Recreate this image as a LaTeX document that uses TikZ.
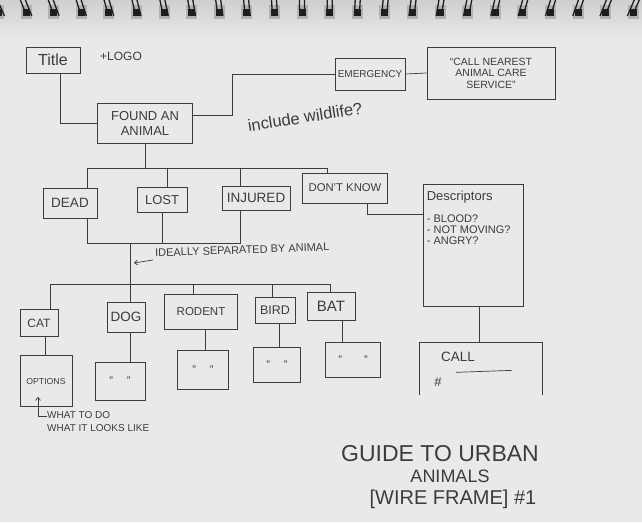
\documentclass[tikz,border=0pt]{standalone}
\usepackage{fontspec}
\setmainfont{Liberation Sans}
\usetikzlibrary{calc,arrows.meta}
\definecolor{paper}{HTML}{E9E9E9}
\definecolor{papertop}{HTML}{CFCFCF}
\definecolor{pencil}{HTML}{3C3C3C}
\definecolor{ring}{HTML}{1E1E1E}
\newcommand{\fsz}[1]{\fontsize{#1}{#1}\selectfont}
\begin{document}
\begin{tikzpicture}[x=1pt,y=-1pt,
  every node/.style={text=pencil},
  box/.style={draw=pencil, line width=0.7pt, rectangle, inner sep=0pt, align=center},
  txt/.style={inner sep=0pt, align=center},
  wire/.style={draw=pencil, line width=0.7pt},
  barb/.style={-{Straight Barb[length=3pt,width=5pt]}},
]
% paper
\useasboundingbox (0,0) rectangle (642,522);
\fill[paper] (0,0) rectangle (642,522);
\shade[top color=papertop, bottom color=paper] (0,0) rectangle (642,40);
% spiral binding
\foreach \i in {0,...,23}{
  \pgfmathsetmacro{\c}{-1+27.6*\i}
  \pgfmathsetmacro{\d}{(320-\c)*0.022}
  \fill[gray!60] (\c-6,5) rectangle (\c+5,19);
  \fill[ring] (\c-4,9) rectangle (\c+3,16);
  \draw[ring, line width=1.3pt] (\c-3-\d/2,0) -- (\c-3+\d/2,16);
  \draw[ring, line width=1.3pt] (\c+2-\d/2,0) -- (\c+2+\d/2,16);
}

% top row
\node[box, font=\fsz{16}, minimum width=54, minimum height=26] (title) at (53,60) {Title};
\node[txt, font=\fsz{12}] (logo) at (121,56) {+LOGO};
\node[box, font=\fontsize{13}{15}\selectfont, minimum width=95, minimum height=40] (found) at (145,123) {FOUND AN\\ANIMAL};
\node[box, font=\fsz{10}, minimum width=70, minimum height=32] (emerg) at (370,74) {EMERGENCY};
\node[box, font=\fontsize{10.5}{11.5}\selectfont, minimum width=128, minimum height=52] (callnear) at (491,73) {“CALL NEAREST\\ANIMAL CARE\\SERVICE”};
\node[txt, font=\fsz{16.5}, rotate=9] (wild) at (305,117) {include wildlife?};

% second row
\node[box, font=\fsz{13.5}, minimum width=54, minimum height=30] (dead) at (70,203) {DEAD};
\node[box, font=\fsz{13}, minimum width=50, minimum height=25] (lost) at (162,200) {LOST};
\node[box, font=\fsz{13.5}, minimum width=68, minimum height=24] (injured) at (256,198) {INJURED};
\node[box, font=\fsz{11.3}, minimum width=85, minimum height=30] (dontknow) at (345,188) {DON'T KNOW};
\node[box, minimum width=100, minimum height=122] (desc) at (473,245) {};
\node[txt, font=\fontsize{11}{11}\selectfont, anchor=north west, align=left] (desctext) at ([xshift=4pt,yshift=-7pt]desc.north west)
  {{\fsz{13}Descriptors}\\[11pt]- BLOOD?\\- NOT MOVING?\\- ANGRY?};
\node[txt, font=\fsz{11}, anchor=west, rotate=2] (note) at (155,253) {IDEALLY SEPARATED BY ANIMAL};
\coordinate (arrtip) at (134,263);

% animals
\node[box, font=\fsz{12}, minimum width=38, minimum height=27] (cat) at (39,323) {CAT};
\node[box, font=\fsz{13.5}, minimum width=38, minimum height=30] (dog) at (126,317) {DOG};
\node[box, font=\fsz{11.5}, minimum width=73, minimum height=35] (rodent) at (201,312) {RODENT};
\node[box, font=\fsz{12.5}, minimum width=40, minimum height=26] (bird) at (275,310) {BIRD};
\node[box, font=\fsz{15}, minimum width=48, minimum height=28] (bat) at (331,306) {BAT};

\node[box, font=\fsz{8.7}, minimum width=52, minimum height=51] (opt) at (46,381) {OPTIONS};
\node[box, font=\fsz{11}, minimum width=50, minimum height=38] (dogsub) at (120,381) {"\hspace{14pt}"};
\node[box, font=\fsz{11}, minimum width=51, minimum height=39] (rodsub) at (203,370) {"\hspace{14pt}"};
\node[box, font=\fsz{11}, minimum width=47, minimum height=35] (birdsub) at (277,365) {"\hspace{14pt}"};
\node[box, font=\fsz{11}, minimum width=55, minimum height=35] (batsub) at (353,360) {"\hspace{22pt}"};
\node[txt, font=\fontsize{10}{13}\selectfont, anchor=north west, align=left] (whattodo) at (47,411) {WHAT TO DO\\WHAT IT LOOKS LIKE};

% call box (open bottom)
\node[minimum width=123, minimum height=52, inner sep=0pt] (call) at (481,369) {};
\draw[wire] (call.south west) -- (call.north west) -- (call.north east) -- (call.south east);
\node[txt, font=\fsz{13.5}] (calltext) at (458,357) {CALL};
\node[txt, font=\fsz{13}] (hash) at (438,382) {\#};
\draw[wire] ([xshift=14pt,yshift=5pt]hash.north east) -- ([xshift=70pt,yshift=7pt]hash.north east);

% title block
\node[txt, font=\fsz{23}] (guide1) at (440,454) {GUIDE TO URBAN};
\node[txt, font=\fsz{18}] (guide2) at (450,476) {ANIMALS};
\node[txt, font=\fsz{20}] (guide3) at (453,499) {[WIRE FRAME] \#1};

% connectors: top
\coordinate (e1) at (232,74);
\draw[wire] ([xshift=7pt]title.south) |- (found.west);
\draw[wire] ([yshift=8pt]found.east) -| (e1) -- (emerg.west);
\draw[wire] (emerg.east) -- (callnear.west);

% bus 1
\coordinate (bus1) at (150,168);
\draw[wire] (found.south) -- (found.south |- bus1);
\coordinate (deadN) at ([xshift=17pt]dead.north);
\coordinate (lostN) at ([xshift=5pt]lost.north);
\coordinate (injN) at ([xshift=-16pt]injured.north);
\coordinate (dkN) at ([xshift=-18pt]dontknow.north);
\draw[wire] (deadN) |- (dkN |- bus1) -- (dkN);
\draw[wire] (lostN) -- (lostN |- bus1);
\draw[wire] (injN) -- (injN |- bus1);

% bus 2
\coordinate (bus2) at (130,243);
\coordinate (bus3) at (130,284);
\coordinate (deadS) at ([xshift=17pt]dead.south);
\coordinate (injS) at ([xshift=-16pt]injured.south);
\draw[wire] (deadS) |- (injS |- bus2) -- (injS);
\draw[wire] (lost.south) -- (lost.south |- bus2);
\draw[wire] (bus2) -- (bus3);
\draw[wire, barb] ([xshift=-2pt,yshift=-7pt]note.west) -- (arrtip);

% bus 3
\coordinate (catN) at ([xshift=11pt]cat.north);
\coordinate (dogN) at ([xshift=4pt]dog.north);
\coordinate (rodN) at ([xshift=-8pt]rodent.north);
\coordinate (birdN) at ([xshift=-3pt]bird.north);
\coordinate (batN) at ([xshift=-1pt]bat.north);
\draw[wire] (catN) |- (batN |- bus3) -- (batN);
\draw[wire] (dogN) -- (dogN |- bus3);
\draw[wire] (rodN) -- (rodN |- bus3);
\draw[wire] (birdN) -- (birdN |- bus3);

% animal to sub boxes
\coordinate (catS) at ([xshift=6pt]cat.south);
\coordinate (dogS) at ([xshift=4pt]dog.south);
\coordinate (rodS) at ([xshift=4pt]rodent.south);
\coordinate (birdS) at ([xshift=4pt]bird.south);
\coordinate (batS) at ([xshift=11pt]bat.south);
\draw[wire] (catS) -- (catS |- opt.north);
\draw[wire] (dogS) -- (dogS |- dogsub.north);
\draw[wire] (rodS) -- (rodS |- rodsub.north);
\draw[wire] (birdS) -- (birdS |- birdsub.north);
\draw[wire] (batS) -- (batS |- batsub.north);

% options note arrow
\draw[wire, barb] ([yshift=-5pt]whattodo.north west) -| ($(opt.south)+(-8,-10)$);

% don't know -> descriptors -> call
\draw[wire] ([xshift=22pt]dontknow.south) |- ($(desc.north west)!0.25!(desc.south west)$);
\draw[wire] ([xshift=6pt]desc.south) -- ([xshift=6pt]desc.south |- call.north);
\end{tikzpicture}
\end{document}
